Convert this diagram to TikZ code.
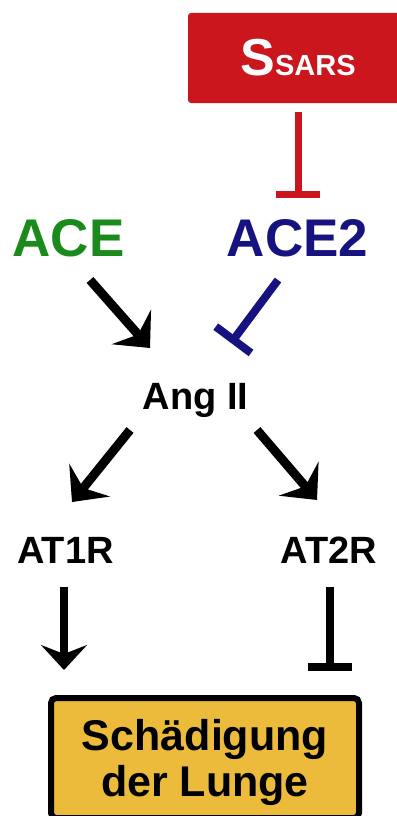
\documentclass[tikz,border=0pt]{standalone}
\usepackage{fontspec}
\setmainfont{Liberation Sans}
\usetikzlibrary{arrows.meta}
\definecolor{sarsred}{RGB}{204,22,30}
\definecolor{acegreen}{RGB}{26,138,28}
\definecolor{aceblue}{RGB}{22,18,128}
\definecolor{lungyellow}{RGB}{236,187,60}
\newcommand{\fs}[1]{\fontsize{#1}{#1}\selectfont\bfseries}
\begin{document}
\begin{tikzpicture}[x=1pt,y=-1pt,
  lbl/.style={inner sep=0pt,outer sep=0pt,anchor=base},
  act/.style={line width=9pt,-{Stealth[length=28pt,width=52pt,inset=10pt]}},
  inh/.style={line width=8pt,-{Bar[width=44pt]}}]
  \useasboundingbox (0,0) rectangle (396,816);
  \node[fill=sarsred,rounded corners=3pt,minimum width=220,minimum height=90,inner sep=0pt,outer sep=0pt,text=white](ssars) at (298,58){\fs{52}S\fs{29}SARS};
  \node[lbl,acegreen](ace) at (68.5,256){\fs{53}ACE};
  \node[lbl,aceblue](ace2) at (297.5,256){\fs{53}ACE2};
  \node[lbl](ang) at (195.5,409){\fs{38}Ang II};
  \node[lbl](at1r) at (65.5,563){\fs{38}AT1R};
  \node[lbl](at2r) at (329,563){\fs{38}AT2R};
  \node[draw,line width=6pt,fill=lungyellow,rounded corners=5pt,minimum width=308,minimum height=120,inner sep=0pt,outer sep=0pt,align=center,font=\fs{43},text depth=0pt](lung) at (205,758){Sch\"adigung\\[3pt]der Lunge};

  \draw[inh,sarsred,line width=7pt] ([shift={(0,9)}]ssars.south) -- ([shift={(0.5,-58)}]ace2.base);
  \draw[act] ([shift={(21.5,24)}]ace.base) -- ([shift={(-45.5,-61)}]ang.base);
  \draw[inh,aceblue] ([shift={(-19.5,24)}]ace2.base) -- ([shift={(35.5,-66)}]ang.base);
  \draw[act] ([shift={(-65.5,21)}]ang.base) -- ([shift={(6.5,-61)}]at1r.base);
  \draw[act] ([shift={(61.5,21)}]ang.base) -- ([shift={(-12,-63)}]at2r.base);
  \draw[line width=8pt,-{Stealth[length=25pt,width=46pt,inset=9pt]}] ([shift={(-1.5,24)}]at1r.base) -- ([shift={(-141,-28)}]lung.north);
  \draw[inh] ([shift={(1,24)}]at2r.base) -- ([shift={(125,-27)}]lung.north);
\end{tikzpicture}
\end{document}
